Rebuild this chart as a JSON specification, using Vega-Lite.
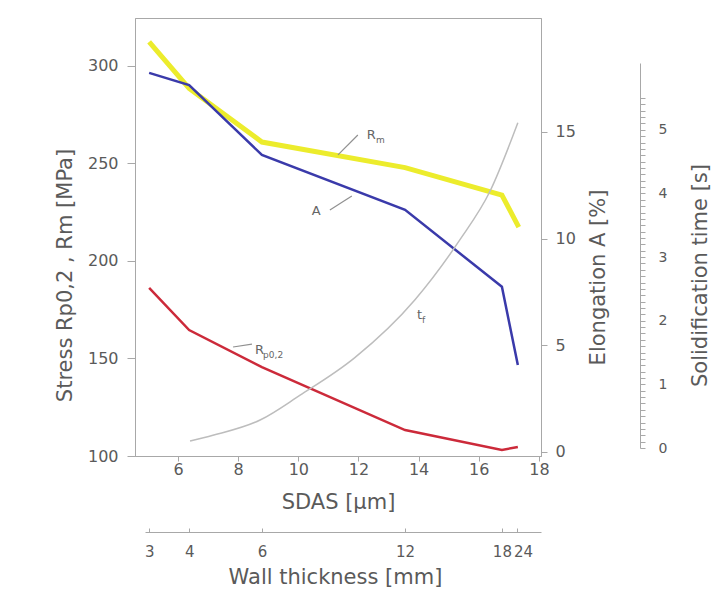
{
  "$schema": "https://vega.github.io/schema/vega-lite/v6.json",
  "width": 406,
  "height": 438,
  "autosize": "none",
  "padding": {"left": 135, "top": 18, "right": 170, "bottom": 140},
  "background": "white",
  "config": {
    "view": {"stroke": "#a8a8a8", "strokeWidth": 1},
    "axis": {
      "domainColor": "#a8a8a8",
      "tickColor": "#a8a8a8",
      "labelColor": "#5a5a5a",
      "titleColor": "#5a5a5a",
      "labelFont": "DejaVu Sans",
      "titleFont": "DejaVu Sans",
      "labelFontSize": 16,
      "titleFontSize": 21,
      "titleFontWeight": "normal",
      "grid": false,
      "labelFlush": false,
      "labelOverlap": false
    }
  },
  "datasets": {
    "curves": [
      {"series": "Rm", "sdas": 5.04, "value": 312.3},
      {"series": "Rm", "sdas": 6.37, "value": 288.5},
      {"series": "Rm", "sdas": 8.79, "value": 261.0},
      {"series": "Rm", "sdas": 13.55, "value": 247.9},
      {"series": "Rm", "sdas": 16.77, "value": 233.8},
      {"series": "Rm", "sdas": 17.33, "value": 217.4},
      {"series": "Rp", "sdas": 5.04, "value": 186.2},
      {"series": "Rp", "sdas": 6.37, "value": 164.6},
      {"series": "Rp", "sdas": 8.79, "value": 145.6},
      {"series": "Rp", "sdas": 13.55, "value": 113.3},
      {"series": "Rp", "sdas": 16.77, "value": 103.1},
      {"series": "Rp", "sdas": 17.3, "value": 104.6},
      {"series": "A", "sdas": 5.04, "value": 17.77},
      {"series": "A", "sdas": 6.37, "value": 17.2},
      {"series": "A", "sdas": 8.79, "value": 13.92},
      {"series": "A", "sdas": 13.55, "value": 11.35},
      {"series": "A", "sdas": 16.77, "value": 7.74},
      {"series": "A", "sdas": 17.3, "value": 4.08},
      {"series": "tf", "sdas": 6.4, "value": 0.11},
      {"series": "tf", "sdas": 7.16, "value": 0.2},
      {"series": "tf", "sdas": 8.73, "value": 0.44},
      {"series": "tf", "sdas": 10.06, "value": 0.83},
      {"series": "tf", "sdas": 11.88, "value": 1.42},
      {"series": "tf", "sdas": 13.88, "value": 2.33},
      {"series": "tf", "sdas": 15.37, "value": 3.27},
      {"series": "tf", "sdas": 16.37, "value": 4.03},
      {"series": "tf", "sdas": 17.3, "value": 5.11}
    ],
    "leaders": [
      {"sdas": 11.32, "value": 254.4, "sdas2": 11.98, "value2": 264.6},
      {"sdas": 11.05, "value": 226.2, "sdas2": 11.78, "value2": 233.3},
      {"sdas": 7.83, "value": 155.9, "sdas2": 8.46, "value2": 157.4}
    ],
    "labels": [
      {"text": "R", "sdas": 12.28, "value": 264.6},
      {"text": "A", "sdas": 10.45, "value": 225.6},
      {"text": "R", "sdas": 8.56, "value": 154.4},
      {"text": "t", "sdas": 13.95, "value": 172.3}
    ],
    "subs": [
      {"text": "m", "sdas": 12.58, "value": 262.1},
      {"text": "p0,2", "sdas": 8.83, "value": 151.8},
      {"text": "f", "sdas": 14.11, "value": 169.7}
    ],
    "wall": [
      {"wall": 3, "sdas": 5.04},
      {"wall": 4, "sdas": 6.37},
      {"wall": 6, "sdas": 8.79},
      {"wall": 12, "sdas": 13.55},
      {"wall": 18, "sdas": 16.77},
      {"wall": 24, "sdas": 17.27}
    ]
  },
  "layer": [
    {
      "layer": [
        {
          "layer": [
            {
              "data": {"name": "curves"},
              "transform": [{"filter": "datum.series === 'Rm'"}],
              "mark": {"type": "line", "color": "#ecec2c", "strokeWidth": 5},
              "encoding": {
                "x": {
                  "field": "sdas", "type": "quantitative",
                  "scale": {"domain": [4.57, 18.07], "nice": false, "zero": false},
                  "axis": {
                    "values": [6, 8, 10, 12, 14, 16, 18],
                    "tickSize": 5, "labelPadding": 0,
                    "title": "SDAS [µm]",
                    "titleBaseline": "middle", "titleY": 46
                  }
                },
                "y": {
                  "field": "value", "type": "quantitative",
                  "scale": {"domain": [100, 324.6], "nice": false, "zero": false},
                  "axis": {
                    "values": [100, 150, 200, 250, 300],
                    "tickSize": 8, "labelPadding": 9,
                    "title": "Stress Rp0,2 , Rm [MPa]",
                    "titleBaseline": "middle", "titleAngle": -90,
                    "titleX": -70, "titleY": 257
                  }
                }
              }
            },
            {
              "data": {"name": "curves"},
              "transform": [{"filter": "datum.series === 'Rp'"}],
              "mark": {"type": "line", "color": "#cc2a3a", "strokeWidth": 2.5},
              "encoding": {
                "x": {"field": "sdas", "type": "quantitative"},
                "y": {"field": "value", "type": "quantitative"}
              }
            },
            {
              "data": {"name": "leaders"},
              "mark": {"type": "rule", "color": "#909090", "strokeWidth": 1.2},
              "encoding": {
                "x": {"field": "sdas", "type": "quantitative"},
                "x2": {"field": "sdas2"},
                "y": {"field": "value", "type": "quantitative"},
                "y2": {"field": "value2"}
              }
            },
            {
              "data": {"name": "labels"},
              "mark": {"type": "text", "align": "left", "baseline": "middle", "font": "DejaVu Sans", "fontSize": 13, "color": "#666666"},
              "encoding": {
                "x": {"field": "sdas", "type": "quantitative"},
                "y": {"field": "value", "type": "quantitative"},
                "text": {"field": "text"}
              }
            },
            {
              "data": {"name": "subs"},
              "mark": {"type": "text", "align": "left", "baseline": "middle", "font": "DejaVu Sans", "fontSize": 9, "color": "#666666"},
              "encoding": {
                "x": {"field": "sdas", "type": "quantitative"},
                "y": {"field": "value", "type": "quantitative"},
                "text": {"field": "text"}
              }
            }
          ]
        },
        {
          "data": {"name": "curves"},
          "transform": [{"filter": "datum.series === 'A'"}],
          "mark": {"type": "line", "color": "#3a3aaa", "strokeWidth": 2.5},
          "encoding": {
            "x": {"field": "sdas", "type": "quantitative"},
            "y": {
              "field": "value", "type": "quantitative",
              "scale": {"domain": [-0.19, 20.34], "nice": false, "zero": false},
              "axis": {
                "orient": "right",
                "values": [0, 5, 10, 15],
                "tickSize": 6, "labelPadding": 8,
                "title": "Elongation A [%]",
                "titleBaseline": "middle", "titleAngle": -90,
                "titleX": 57, "titleY": 259
              }
            }
          }
        },
        {
          "data": {"name": "curves"},
          "transform": [{"filter": "datum.series === 'tf'"}],
          "mark": {"type": "line", "color": "#bdbdbd", "strokeWidth": 1.5, "interpolate": "monotone"},
          "encoding": {
            "x": {"field": "sdas", "type": "quantitative"},
            "y": {
              "field": "value", "type": "quantitative",
              "scale": {"domain": [0, 6.05], "range": [430, 45], "nice": false, "zero": false},
              "axis": {
                "orient": "right",
                "offset": 99,
                "values": [0,0.1,0.2,0.3,0.4,0.5,0.6,0.7,0.8,0.9,1,1.1,1.2,1.3,1.4,1.5,1.6,1.7,1.8,1.9,2,2.1,2.2,2.3,2.4,2.5,2.6,2.7,2.8,2.9,3,3.1,3.2,3.3,3.4,3.5,3.6,3.7,3.8,3.9,4,4.1,4.2,4.3,4.4,4.5,4.6,4.7,4.8,4.9,5,5.1,5.2,5.3,5.4,5.5],
                "labelExpr": "datum.value % 1 === 0 ? format(datum.value, 'd') : ''",
                "tickSize": 5, "labelPadding": 13, "labelFontSize": 14,
                "title": "Solidification time [s]",
                "titleBaseline": "middle", "titleAngle": -90,
                "titleX": 60, "titleY": 257
              }
            }
          }
        }
      ],
      "resolve": {"scale": {"y": "independent"}}
    },
    {
      "data": {"name": "wall"},
      "mark": {"type": "point", "opacity": 0},
      "encoding": {
        "x": {
          "field": "sdas", "type": "quantitative",
          "scale": {"domain": [4.902, 18.07], "range": [10, 406], "nice": false, "zero": false},
          "axis": {
            "orient": "bottom",
            "offset": 76,
            "values": [5.04, 6.37, 8.79, 13.55, 16.77, 17.27],
            "labelExpr": "datum.value < 5.5 ? '3' : datum.value < 7 ? '4' : datum.value < 10 ? '6' : datum.value < 15 ? '12' : datum.value < 17 ? '18' : '24'",
            "labelOffset": {"condition": {"test": "datum.value > 17", "value": 6}, "value": 0},
            "tickSize": -4, "labelPadding": 16, "labelFontSize": 15,
            "title": "Wall thickness [mm]",
            "titleBaseline": "middle", "titleY": 45, "titleX": 200
          }
        }
      }
    }
  ],
  "resolve": {"scale": {"x": "independent"}}
}
